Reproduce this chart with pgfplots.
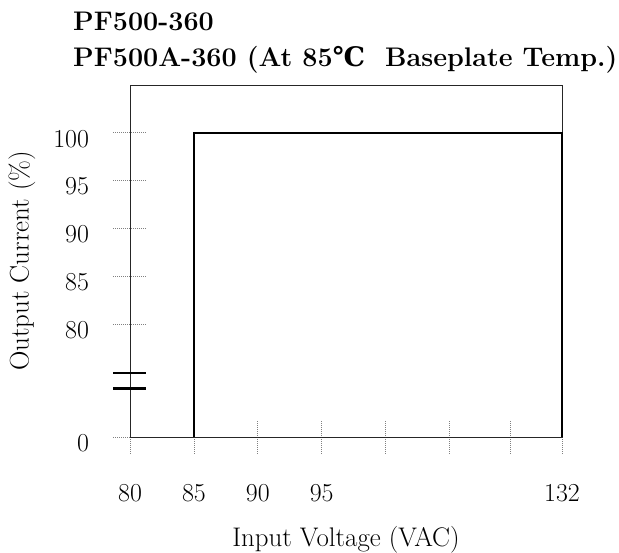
\documentclass[border=0pt]{standalone}
\usepackage{fontspec}
\usepackage{pgfplots}
\pgfplotsset{compat=1.18}
\newfontfamily\dvserif{DejaVu Serif}
\begin{document}
\begin{tikzpicture}
\path[use as bounding box] (0,0) rectangle (619bp,553bp);
\node[anchor=base west, inner sep=0pt, font=\fontsize{27}{31}\selectfont\bfseries] at (73bp,522bp) {PF500-360};
\node[anchor=base west, inner sep=0pt, font=\fontsize{27}{31}\selectfont\bfseries] at (73bp,486bp) {PF500A-360 (At 85{\dvserif\bfseries ℃}\ \ Baseplate Temp.)};
\begin{axis}[
  at={(130bp,116bp)}, anchor=south west,
  scale only axis, width=432bp, height=352bp,
  xmin=80, xmax=113.8, ymin=68.24, ymax=104.98,
  xtick={80,85,90,95,100,105,109.8,113.8},
  xticklabels={80,85,90,95,,,,132},
  ytick={68.24,80,85,90,95,100},
  yticklabels={0,80,85,90,95,100},
  tick align=center, major tick length=33bp,
  xtick pos=bottom, ytick pos=left,
  tick style={gray, line width=0.8bp, dash pattern=on 0.8bp off 1.2bp},
  axis line style={line width=0.8pt, black!85},
  ticklabel style={font=\fontsize{26}{30}\selectfont},
  xticklabel style={anchor=center, yshift=-40bp},
  yticklabel style={anchor=east, yshift=-6bp, xshift=-21bp},
  xlabel={Input Voltage (VAC)},
  ylabel={Output Current (\%)},
  label style={font=\fontsize{27}{31}\selectfont},
  xlabel style={at={(axis description cs:0.5,-0.2926)}, anchor=center},
  ylabel style={at={(axis description cs:-0.25,0.5)}, anchor=center},
  clip=false,
]
\addplot[black, line width=2pt, sharp plot] coordinates {(85,68.24) (85,100) (113.8,100) (113.8,68.24)};
\draw[line width=2.5pt] (axis cs:78.67,74.92) -- (axis cs:81.25,74.92);
\draw[line width=2.5pt] (axis cs:78.67,73.28) -- (axis cs:81.25,73.28);
\end{axis}
\end{tikzpicture}
\end{document}
